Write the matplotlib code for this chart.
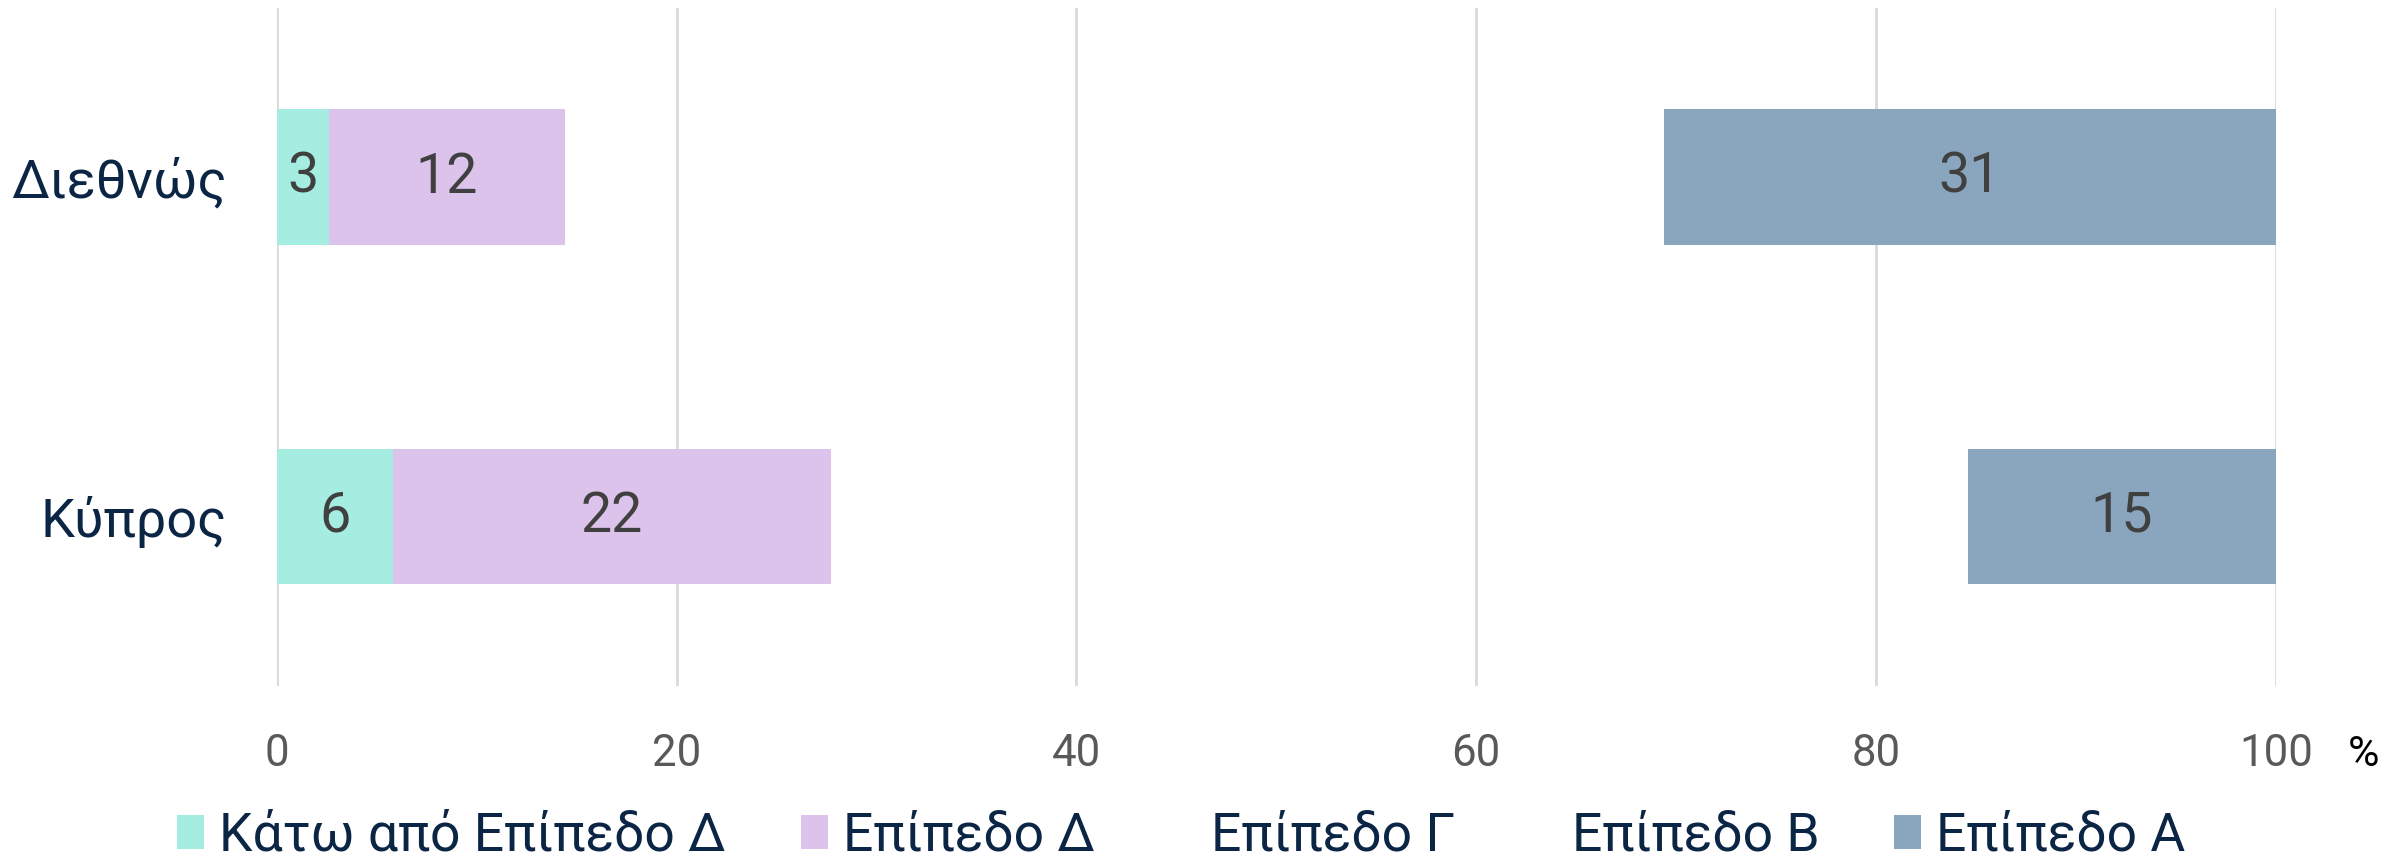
import matplotlib
matplotlib.use("Agg")
import matplotlib.pyplot as plt
from matplotlib.patches import Patch

plt.rcParams['font.family'] = ['Roboto', 'DejaVu Sans']

categories = ["Διεθνώς", "Κύπρος"]
series_names = ["Κάτω από Επίπεδο Δ", "Επίπεδο Δ", "Επίπεδο Γ", "Επίπεδο Β", "Επίπεδο Α"]
below_d = [2.6, 5.8]
level_d = [11.8, 21.9]
level_c = [27.0, 28.5]
level_b = [28.0, 28.4]
level_a = [30.6, 15.4]
labels_below_d = ["3", "6"]
labels_d = ["12", "22"]
labels_a = ["31", "15"]
xticks = [0, 20, 40, 60, 80, 100]

colors = ["#A5EDE0", "#DBC3EC", "none", "none", "#8AA5BE"]

fig = plt.figure(figsize=(24.07, 8.57), dpi=100)
ax = fig.add_axes([0.115, 0.1995, 0.8305, 0.7915])

series = [below_d, level_d, level_c, level_b, level_a]
label_sets = [labels_below_d, labels_d, None, None, labels_a]
ypos = list(range(len(categories)))
left = [0.0] * len(categories)
for name, vals, col, labs in zip(series_names, series, colors, label_sets):
    bars = ax.barh(ypos, vals, left=left, height=0.4, color=col, label=name, zorder=2)
    if labs is not None:
        ax.bar_label(bars, labels=labs, label_type='center', fontsize=40, color="#404040")
    left = [l + v for l, v in zip(left, vals)]

ax.set_xlim(0, 100)
ax.set_ylim(1.5, -0.5)
ax.set_yticks(ypos)
ax.set_yticklabels(categories, fontsize=39, color="#0B2545")
ax.set_xticks(xticks)
ax.set_xticklabels([str(t) for t in xticks], fontsize=31.5, color="#595959")
ax.tick_params(axis='y', length=0, pad=36)
ax.tick_params(axis='x', length=0, pad=34)
ax.grid(axis='x', color="#D9D9D9", linewidth=2, zorder=0)
ax.set_axisbelow(True)
for s in ax.spines.values():
    s.set_visible(False)

fig.text(2364 / 2407, 1 - 754 / 857, "%", fontsize=31, color="black", ha='center', va='center')

handles = [Patch(facecolor=c, edgecolor='none') for c in colors]
fig.legend(handles, series_names, loc='center', bbox_to_anchor=(0.4908, 1 - 836 / 857), ncol=5,
           frameon=False, fontsize=38.5, labelcolor="#0B2545", handlelength=0.5, handleheight=0.6,
           handletextpad=0.28, columnspacing=1.4)

fig.savefig("out.png", dpi=100)
